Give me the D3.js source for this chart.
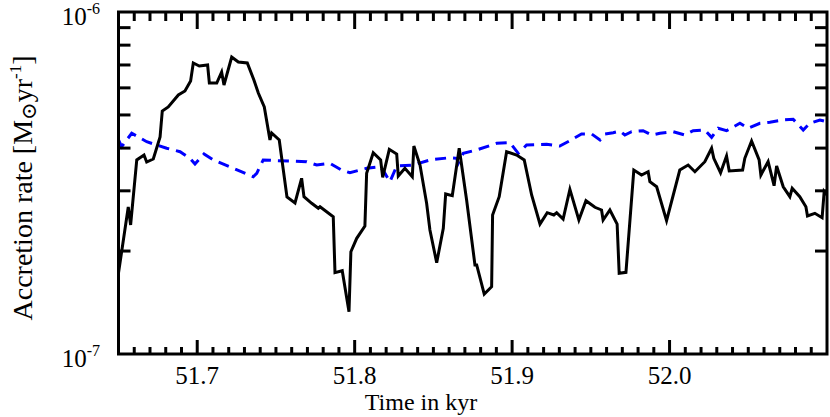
<!DOCTYPE html>
<html>
<head>
<meta charset="utf-8">
<script src="https://cdn.jsdelivr.net/npm/d3@7"></script>
<style>
  html, body { margin: 0; padding: 0; background: #fff; }
  svg { display: block; }
</style>
</head>
<body>
<svg id="chart" width="830" height="417"></svg>
<script>
// ---- data (time in kyr, accretion rate in units of 1e-7 Msun/yr) ----
const blackTime = [51.650,51.6562,51.6577,51.6616,51.6662,51.6679,51.6721,51.6764,51.6778,51.6816,
  51.6880,51.6922,51.6958,51.6975,51.7013,51.7066,51.7077,51.7124,51.7155,51.7170,
  51.7219,51.7261,51.7318,51.7360,51.7388,51.7426,51.7462,51.7473,51.7521,51.7570,
  51.7621,51.7663,51.7678,51.7727,51.7769,51.7780,51.7864,51.7875,51.7921,51.7964,
  51.7976,51.8013,51.8065,51.8076,51.8118,51.8165,51.8178,51.8220,51.8267,51.8277,
  51.8319,51.8366,51.8376,51.8415,51.8457,51.8478,51.8521,51.8563,51.8578,51.8620,
  51.8664,51.8711,51.8764,51.8775,51.8823,51.8870,51.8876,51.8918,51.8965,51.9029,
  51.9077,51.9124,51.9177,51.9223,51.9265,51.9283,51.9324,51.9367,51.9424,51.9469,
  51.9526,51.9568,51.9578,51.9621,51.9667,51.9680,51.9723,51.9773,51.9822,51.9864,
  51.9875,51.9918,51.9981,52.0065,52.0118,52.0161,52.0224,52.0267,52.0281,52.0324,
  52.0362,52.0379,52.0464,52.0478,52.0521,52.0569,52.0580,52.0626,52.0664,52.0680,
  52.0722,52.0764,52.0779,52.0827,52.0866,52.0876,52.0923,52.0969,52.0982,52.0997];
const blackRate = [1.725,2.690,2.384,3.693,3.818,3.642,3.717,4.311,5.134,5.276,
  5.719,5.875,6.284,7.094,6.951,6.998,6.200,6.200,6.676,6.117,
  7.386,7.142,7.094,6.327,5.797,5.276,4.225,4.429,4.225,2.878,
  2.764,3.264,2.884,2.758,2.667,2.696,2.520,1.729,1.752,1.329,
  1.991,2.179,2.367,3.376,3.878,3.693,3.286,3.968,3.844,3.315,
  3.491,3.299,4.057,3.569,2.758,2.304,1.849,2.331,2.937,2.903,
  3.995,2.820,1.821,1.821,1.497,1.573,2.549,2.884,3.904,3.818,
  3.693,2.917,2.399,2.589,2.549,2.589,2.481,3.030,2.465,2.807,
  2.685,2.637,2.465,2.637,2.399,1.722,1.733,3.451,3.337,3.412,
  3.190,3.084,2.454,3.451,3.569,3.412,3.650,3.995,3.734,3.389,
  3.793,3.428,3.451,3.734,4.196,3.693,3.337,3.650,3.105,3.545,
  3.084,2.884,3.051,2.884,2.696,2.532,2.578,2.503,2.983,2.917];

const blueTime = [51.650,51.652,51.6584,51.6679,51.6806,51.6891,51.6954,51.6986,51.7043,51.7102,
  51.7229,51.7356,51.7378,51.7419,51.7505,51.7695,51.7759,51.7843,51.7917,51.7970,
  51.8076,51.8161,51.8186,51.8224,51.8267,51.8372,51.8478,51.8605,51.8648,51.8658,
  51.8690,51.8775,51.8902,51.8986,51.9039,51.9092,51.9219,51.9303,51.9367,51.9441,
  51.9505,51.9558,51.9589,51.9642,51.9684,51.9716,51.9759,51.9832,51.9886,51.9939,
  52.0023,52.0097,52.0150,52.0224,52.0267,52.0309,52.0362,52.0447,52.0499,52.0574,
  52.0637,52.0722,52.0785,52.0849,52.0891,52.0955,52.0997];
const blueRate = [4.225,4.038,4.420,4.176,3.995,3.904,3.734,3.594,3.844,3.693,
  3.491,3.299,3.376,3.693,3.675,3.650,3.569,3.611,3.451,3.389,
  3.491,3.529,3.412,3.190,3.545,3.569,3.693,3.750,3.734,3.611,
  3.862,3.950,4.131,4.148,3.862,4.084,4.103,4.057,4.205,4.399,
  4.399,4.225,4.399,4.437,4.487,4.369,4.467,4.497,4.369,4.420,
  4.467,4.369,4.497,4.519,4.301,4.571,4.497,4.728,4.571,4.728,
  4.760,4.834,4.857,4.519,4.728,4.834,4.778];
const rateUnit = 1e-7;

// ---- axes ----
const xDomain = [51.65, 52.1];
const yDomain = [1e-7, 1e-6];
const xMajorTicks = [51.7, 51.8, 51.9, 52.0];
const xTickLabels = ["51.7", "51.8", "51.9", "52.0"];
const yMinorTicks = [2e-7, 3e-7, 4e-7, 5e-7, 6e-7, 7e-7, 8e-7, 9e-7];
const yTickBase = ["10", "10"];
const yTickExp = ["-7", "-6"];
const xTitle = "Time in kyr";

const FONT = "'Liberation Serif', 'Times New Roman', Times, 'DejaVu Serif', serif";
const margin = { left: 118.5, right: 827, top: 12, bottom: 354 };
const svg = d3.select("#chart");
const x = d3.scaleLinear().domain(xDomain).range([margin.left, margin.right]);
const y = d3.scaleLog().domain(yDomain).range([margin.bottom, margin.top]);

svg.append("defs").append("clipPath").attr("id", "clip")
  .append("rect").attr("x", margin.left).attr("y", margin.top)
  .attr("width", margin.right - margin.left).attr("height", margin.bottom - margin.top);

const line = d3.line().x(d => x(d[0])).y(d => y(d[1] * rateUnit));
const blackData = blackTime.map((t, i) => [t, blackRate[i]]);
const blueData = blueTime.map((t, i) => [t, blueRate[i]]);

const plot = svg.append("g").attr("clip-path", "url(#clip)");
plot.append("path").datum(blueData).attr("d", line)
  .attr("fill", "none").attr("stroke", "#0000ff").attr("stroke-width", 3)
  .attr("stroke-dasharray", "11,7").attr("stroke-linejoin", "miter");
plot.append("path").datum(blackData).attr("d", line)
  .attr("fill", "none").attr("stroke", "#000").attr("stroke-width", 3)
  .attr("stroke-linejoin", "miter");

// ticks
const tickG = svg.append("g").attr("stroke", "#000").attr("stroke-width", 3);
const xMinorTicks = d3.range(51.66, 52.095, 0.01).filter(v => !xMajorTicks.some(m => Math.abs(m - v) < 1e-6));
xMinorTicks.forEach(v => {
  tickG.append("line").attr("x1", x(v)).attr("x2", x(v)).attr("y1", margin.bottom).attr("y2", margin.bottom - 7);
  tickG.append("line").attr("x1", x(v)).attr("x2", x(v)).attr("y1", margin.top).attr("y2", margin.top + 9);
});
xMajorTicks.forEach(v => {
  tickG.append("line").attr("x1", x(v)).attr("x2", x(v)).attr("y1", margin.bottom).attr("y2", margin.bottom - 14);
  tickG.append("line").attr("x1", x(v)).attr("x2", x(v)).attr("y1", margin.top).attr("y2", margin.top + 17);
});
yMinorTicks.forEach(v => {
  tickG.append("line").attr("x1", margin.left).attr("x2", margin.left + 12).attr("y1", y(v)).attr("y2", y(v));
  tickG.append("line").attr("x1", margin.right).attr("x2", margin.right - 12).attr("y1", y(v)).attr("y2", y(v));
});

// frame
svg.append("rect").attr("x", margin.left).attr("y", margin.top)
  .attr("width", margin.right - margin.left).attr("height", margin.bottom - margin.top)
  .attr("fill", "none").attr("stroke", "#000").attr("stroke-width", 3);

// x tick labels
xMajorTicks.forEach((v, i) => {
  svg.append("text").attr("x", x(v)).attr("y", 384).attr("text-anchor", "middle")
    .attr("font-family", FONT).attr("font-size", 25).text(xTickLabels[i]);
});

// y tick labels
yDomain.forEach((v, i) => {
  const t = svg.append("text").attr("x", 100).attr("y", y(v) + 13).attr("text-anchor", "end")
    .attr("font-family", FONT).attr("font-size", 25);
  t.append("tspan").text(yTickBase[i]);
  t.append("tspan").attr("font-size", 16).attr("dy", -11).text(yTickExp[i]);
});

// axis titles
svg.append("text").attr("x", 421).attr("y", 410)
  .attr("text-anchor", "middle").attr("font-family", FONT).attr("font-size", 24).text(xTitle);

const yt = svg.append("text").attr("transform", "translate(32,188) rotate(-90)")
  .attr("text-anchor", "middle").attr("font-family", FONT).attr("font-size", 28);
yt.append("tspan").text("Accretion rate [M");
yt.append("tspan").attr("font-size", 21).attr("dy", 4).text("\u2299");
yt.append("tspan").attr("dy", -4).text("yr");
yt.append("tspan").attr("font-size", 17).attr("dy", -11).text("-1");
yt.append("tspan").attr("dy", 11).text("]");
</script>
</body>
</html>
